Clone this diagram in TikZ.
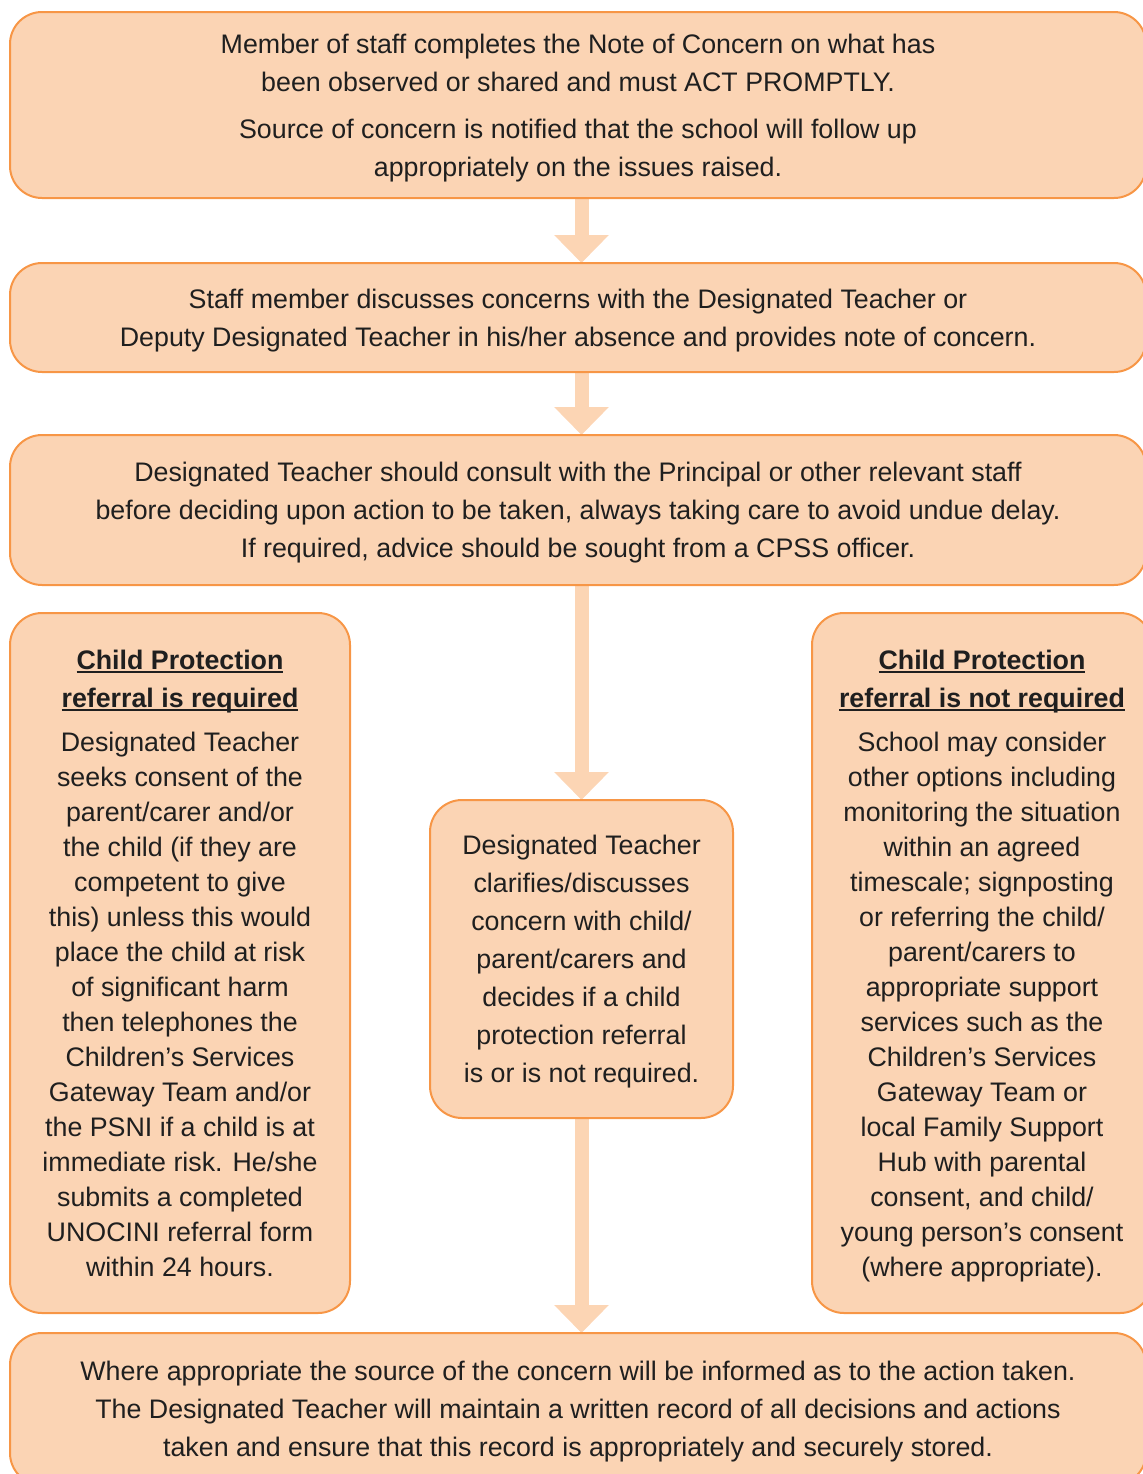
\documentclass[tikz,border=0pt]{standalone}
\usepackage{fontspec}
\setmainfont{Liberation Sans}
\usepackage{xcolor}
\usetikzlibrary{arrows.meta,positioning,backgrounds}

\definecolor{boxfill}{HTML}{FBD4B4}
\definecolor{boxline}{HTML}{F79646}
\definecolor{arrowfill}{HTML}{FCD5B4}
\definecolor{inktext}{HTML}{1F1F1F}

% bold heading with a rule just under the baseline
\newcommand{\headline}[1]{\setbox0\hbox{\textbf{#1}}\rlap{\rule[-2pt]{\wd0}{1pt}}\box0}

\begin{document}
\begin{tikzpicture}[
    flowbox/.style={rectangle, draw=boxline, fill=boxfill, line width=1pt, rounded corners=16pt, minimum width=568pt, inner sep=0pt, outer sep=0pt, text depth=-2.5pt, align=center, text=inktext, font=\fontsize{13.4pt}{19pt}\selectfont},
    sidebox/.style={flowbox, minimum width=170pt, minimum height=350pt, text depth=0pt, font=\fontsize{13.4pt}{17.5pt}\selectfont},
    bigarrow/.style={-{Triangle[width=26.5pt,length=14pt]}, line width=7pt, draw=arrowfill}
]
\useasboundingbox (0,0) rectangle (571pt,-737pt);

% Steps
\node[flowbox, minimum height=93pt, anchor=north] (concern) at (289pt,-6pt) {Member of staff completes the Note of Concern on what has\\ been observed or shared and must ACT PROMPTLY.\\[4.5pt] Source of concern is notified that the school will follow up\\ appropriately on the issues raised.};
\node[flowbox, minimum height=54.5pt, below=32.5pt of concern] (discuss) {Staff member discusses concerns with the Designated Teacher or\\ Deputy Designated Teacher in his/her absence and provides note of concern.};
\node[flowbox, minimum height=75pt, below=31.5pt of discuss] (consult) {Designated Teacher should consult with the Principal or other relevant staff\\ before deciding upon action to be taken, always taking care to avoid undue delay.\\ If required, advice should be sought from a CPSS officer.};

% Outcomes
\node[sidebox, below=14pt of consult.south west, anchor=north west] (required) {\headline{Child Protection}\\[1.5pt] \headline{referral is required}\\[4.5pt] Designated Teacher\\ seeks consent of the\\ parent/carer and/or\\ the child (if they are\\ competent to give\\ this) unless this would\\ place the child at risk\\ of significant harm\\ then telephones the\\ Children’s Services\\ Gateway Team and/or\\ the PSNI if a child is at\\ immediate risk. He/she\\ submits a completed\\ UNOCINI referral form\\ within 24 hours.};
\node[sidebox, below=14pt of consult.south east, anchor=north east, xshift=3pt] (notrequired) {\headline{Child Protection}\\[1.5pt] \headline{referral is not required}\\[4.5pt] School may consider\\ other options including\\ monitoring the situation\\ within an agreed\\ timescale; signposting\\ or referring the child/\\ parent/carers to\\ appropriate support\\ services such as the\\ Children’s Services\\ Gateway Team or\\ local Family Support\\ Hub with parental\\ consent, and child/\\ young person’s consent\\ (where appropriate).};
\node[flowbox, minimum width=151.5pt, minimum height=159pt] (decide) at (290.75pt,-479.5pt) {Designated Teacher\\ clarifies/discusses\\ concern with child/\\ parent/carers and\\ decides if a child\\ protection referral\\ is or is not required.};

% Record
\node[flowbox, minimum height=76pt, below=10pt of required.south west, anchor=north west] (record) {Where appropriate the source of the concern will be informed as to the action taken.\\ The Designated Teacher will maintain a written record of all decisions and actions\\ taken and ensure that this record is appropriately and securely stored.};

% Connections
\begin{pgfonlayer}{background}
\draw[bigarrow] (concern.south -| decide.north) -- (discuss.north -| decide.north);
\draw[bigarrow] (discuss.south -| decide.north) -- (consult.north -| decide.north);
\draw[bigarrow] (consult.south -| decide.north) -- (decide.north);
\draw[bigarrow] (decide.south) -- (record.north -| decide.south);
\end{pgfonlayer}

\end{tikzpicture}
\end{document}
